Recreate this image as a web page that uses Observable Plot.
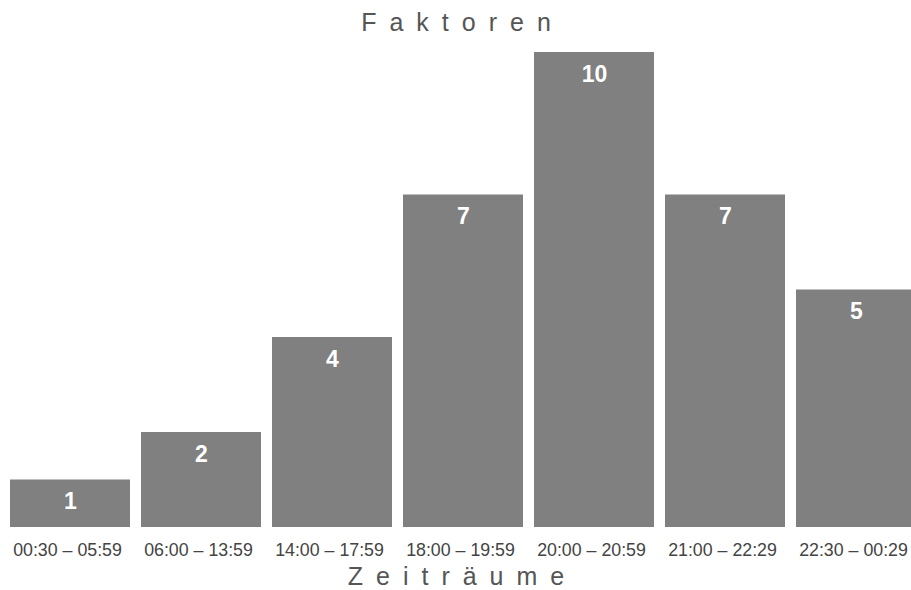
<!DOCTYPE html>
<html>
<head>
<meta charset="utf-8">
<script src="https://cdn.jsdelivr.net/npm/d3@7"></script>
<script src="https://cdn.jsdelivr.net/npm/@observablehq/plot@0.6"></script>
<style>
  html, body { margin: 0; padding: 0; background: #fff; overflow: hidden; }
  #wrap { position: relative; width: 911px; height: 590px; font-family: "Liberation Sans", Arial, sans-serif; }
  .ttl { position: absolute; left: 0; width: 911px; text-align: center; font-size: 25px; color: #555; letter-spacing: 13px; line-height: 24px; padding-left: 14px; box-sizing: border-box; white-space: nowrap; }
</style>
</head>
<body>
<div id="wrap">
  <div class="ttl" id="top" style="top:10px">Faktoren</div>
  <div id="chart"></div>
  <div class="ttl" id="bottom" style="top:564px">Zeiträume</div>
</div>
<script>
const categories = ["00:30 – 05:59", "06:00 – 13:59", "14:00 – 17:59", "18:00 – 19:59", "20:00 – 20:59", "21:00 – 22:29", "22:30 – 00:29"];
const values = [1, 2, 4, 7, 10, 7, 5];

const data = categories.map((c, i) => ({ cat: c, v: values[i] }));

const chart = Plot.plot({
  width: 911,
  height: 590,
  marginTop: 52,
  marginBottom: 63,
  marginLeft: 0,
  marginRight: 0,
  style: { fontFamily: "Liberation Sans, Arial, sans-serif", background: "transparent" },
  x: { domain: categories, range: [4.5, 921.5], paddingInner: 0.084, paddingOuter: 0.042, label: null },
  y: { domain: [0, 10], axis: null },
  marks: [
    Plot.barY(data, { x: "cat", y: "v", fill: "#808080" }),
    Plot.text(data, { x: "cat", y: "v", text: d => String(d.v), dy: 22, fill: "white", fontWeight: "bold", fontSize: 23 }),
    Plot.axisX({ tickSize: 0, tickPadding: 16, fontSize: 17.8, dx: -3, color: "#444", label: null })
  ]
});
document.getElementById("chart").appendChild(chart);
</script>
</body>
</html>
